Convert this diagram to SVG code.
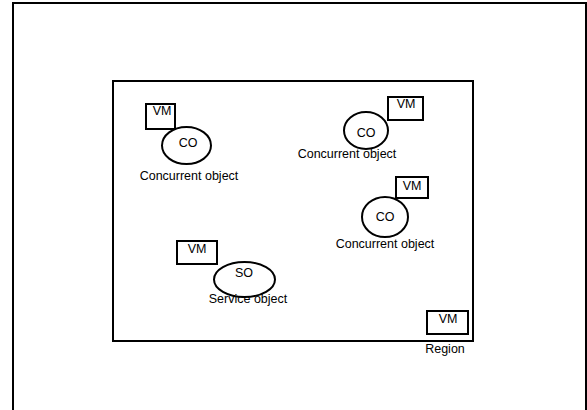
<svg xmlns="http://www.w3.org/2000/svg" width="587" height="410" viewBox="0 0 587 410">
<style>
.s{fill:none;stroke:#000;stroke-width:2}
.w{fill:#fff;stroke:#000;stroke-width:2}
text{font-family:"Liberation Sans",Arial,sans-serif;font-size:12.5px;fill:#000;text-anchor:middle}
</style>
<rect x="0" y="0" width="587" height="410" fill="#fff"/>
<g id="frame"><path class="s" d="M13,415 V3 H586 V415"/></g>
<g id="region">
<rect class="s" x="113" y="81" width="360" height="260"/>
<rect class="w" x="427" y="311" width="41" height="23"/>
<text x="448" y="323">VM</text>
<text x="445" y="353">Region</text>
</g>
<g id="co1">
<rect class="w" x="146" y="104" width="29" height="25"/>
<text x="162" y="115">VM</text>
<ellipse class="w" cx="186.5" cy="145.5" rx="24.5" ry="18.5"/>
<text x="188" y="147">CO</text>
<text x="189" y="180">Concurrent object</text>
</g>
<g id="co2">
<rect class="w" x="388" y="97" width="35" height="23"/>
<text x="406" y="108">VM</text>
<ellipse class="w" cx="366" cy="130.5" rx="22" ry="18.5"/>
<text x="366" y="137">CO</text>
<text x="347" y="158">Concurrent object</text>
</g>
<g id="co3">
<rect class="w" x="396" y="177" width="32" height="21"/>
<text x="412" y="190">VM</text>
<ellipse class="w" cx="385" cy="217" rx="23" ry="20"/>
<text x="385" y="221">CO</text>
<text x="385" y="248">Concurrent object</text>
</g>
<g id="so">
<rect class="w" x="177" y="241" width="40" height="23"/>
<text x="197" y="253">VM</text>
<ellipse class="w" cx="244.5" cy="279.5" rx="30.5" ry="17.5"/>
<text x="244" y="277">SO</text>
<text x="248" y="303">Service object</text>
</g>
<g id="connectors"/>
</svg>
